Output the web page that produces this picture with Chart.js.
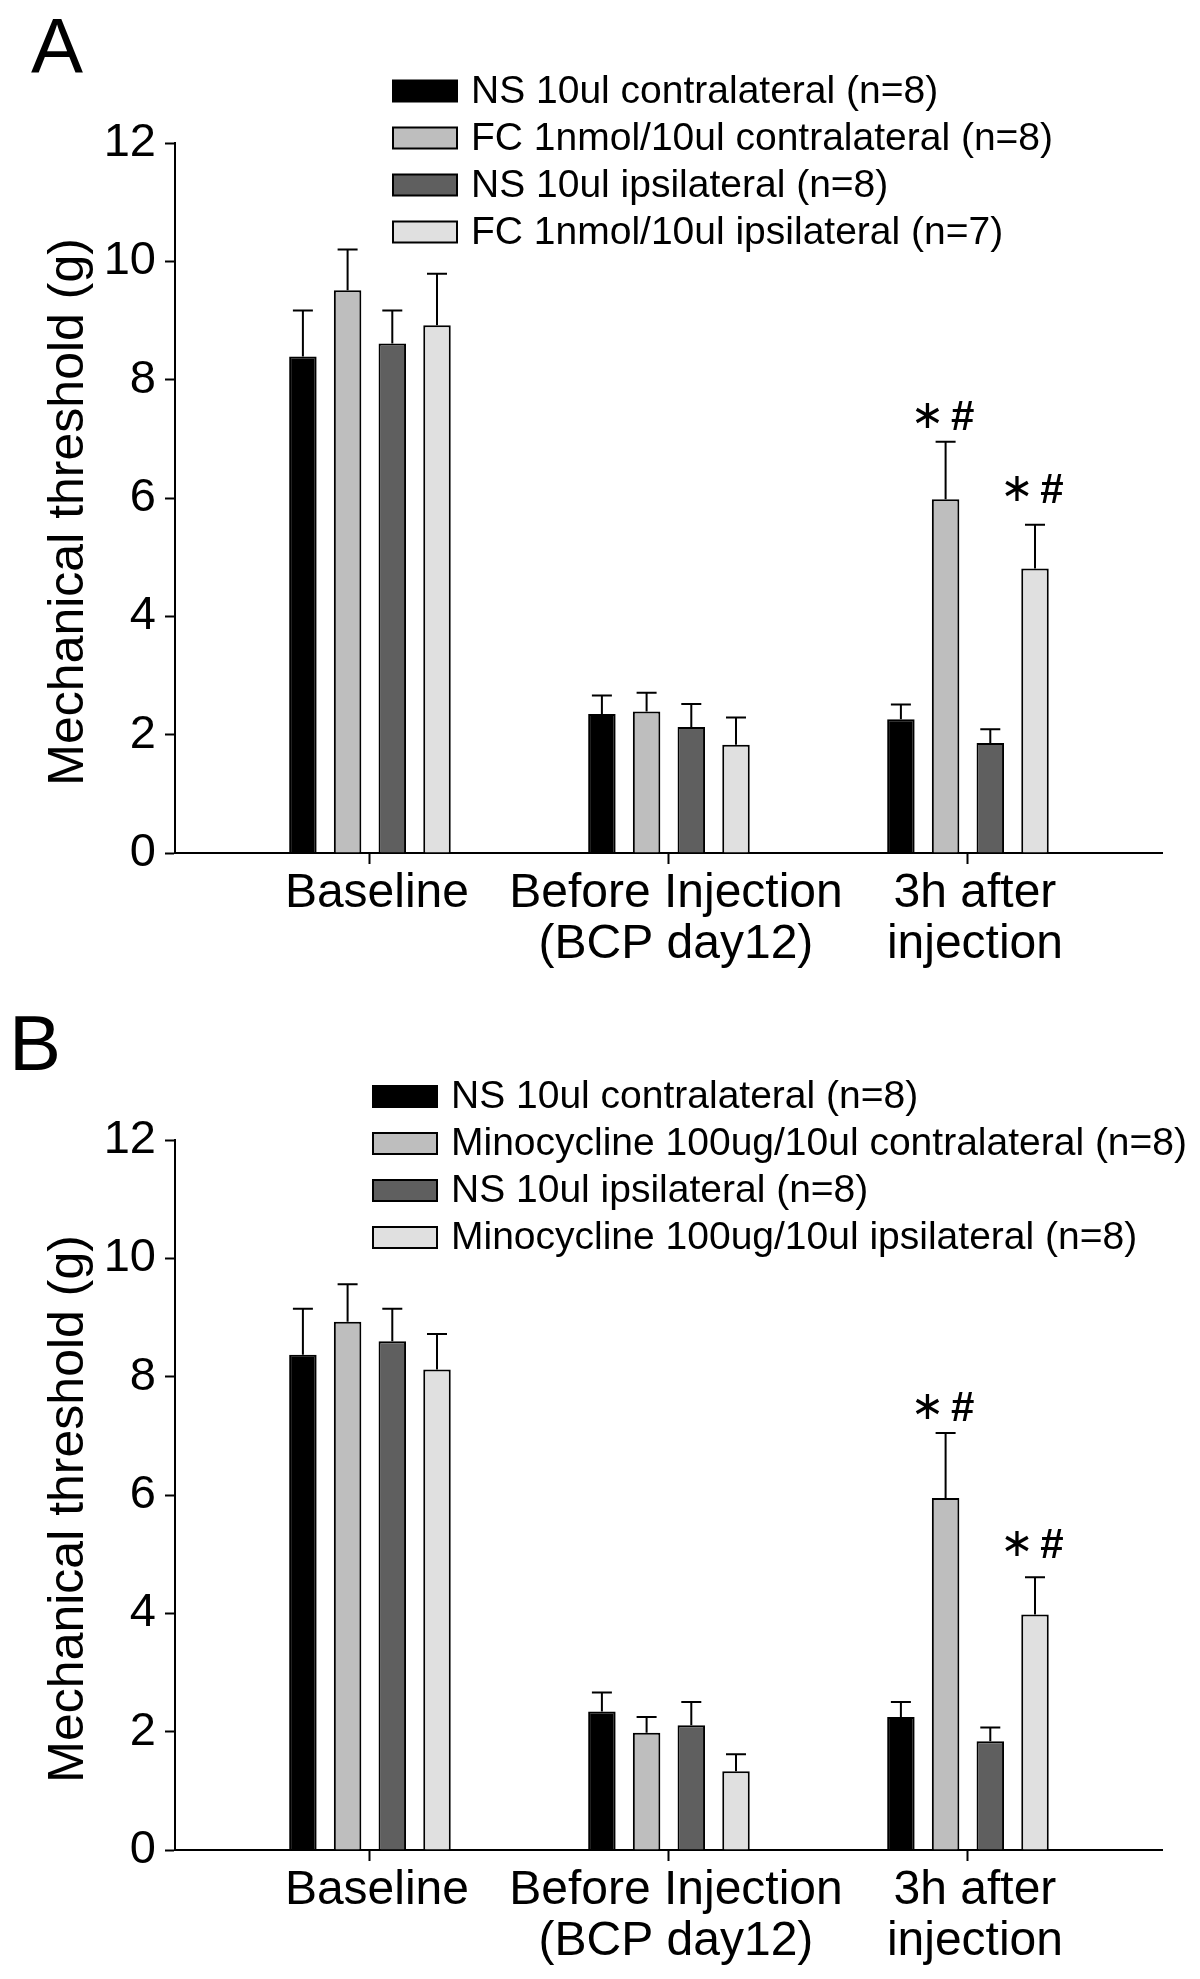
<!DOCTYPE html>
<html><head><meta charset="utf-8">
<script src="https://cdn.jsdelivr.net/npm/chart.js@4.4.0/dist/chart.umd.min.js"></script>
<style>
html,body{margin:0;padding:0;background:#fff;width:1200px;height:1979px;overflow:hidden;}
canvas{position:absolute;left:0;}
.letter{position:absolute;font-family:'Liberation Sans',Arial,sans-serif;font-size:78px;line-height:1;color:#000;z-index:2;}
</style></head><body>
<canvas id="cA" width="1200" height="997" style="top:0;width:1200px;height:997px"></canvas>
<canvas id="cB" width="1200" height="982" style="top:997px;width:1200px;height:982px"></canvas>
<div class="letter" style="left:31px;top:7px">A</div>
<div class="letter" style="left:9px;top:1004px">B</div>
<script>
// ---- data ----
const categories = [['Baseline'], ['Before Injection', '(BCP day12)'], ['3h after', 'injection']];
const yTitle = 'Mechanical threshold (g)\u00a0\u00a0';
const seriesColors = ['#000000', '#bebebe', '#5f5f5f', '#e0e0e0'];

const labelsA = ['NS 10ul contralateral (n=8)', 'FC 1nmol/10ul contralateral (n=8)', 'NS 10ul ipsilateral (n=8)', 'FC 1nmol/10ul ipsilateral (n=7)'];
const nsContraA = [8.39, 2.35, 2.26];
const fcContraA = [9.51, 2.39, 5.98];
const nsIpsiA   = [8.61, 2.13, 1.86];
const fcIpsiA   = [8.92, 1.83, 4.81];
const nsContraA_sem = [0.78, 0.31, 0.25];
const fcContraA_sem = [0.69, 0.32, 0.97];
const nsIpsiA_sem   = [0.56, 0.39, 0.23];
const fcIpsiA_sem   = [0.87, 0.46, 0.74];
const sigA = [['', '', ''], ['', '', '∗#'], ['', '', ''], ['', '', '∗#']];

const labelsB = ['NS 10ul contralateral (n=8)', 'Minocycline 100ug/10ul contralateral (n=8)', 'NS 10ul ipsilateral (n=8)', 'Minocycline 100ug/10ul ipsilateral (n=8)'];
const nsContraB  = [8.37, 2.34, 2.25];
const minoContraB = [8.93, 1.98, 5.95];
const nsIpsiB    = [8.60, 2.11, 1.84];
const minoIpsiB  = [8.12, 1.33, 3.98];
const nsContraB_sem  = [0.78, 0.32, 0.25];
const minoContraB_sem = [0.63, 0.27, 1.10];
const nsIpsiB_sem    = [0.55, 0.39, 0.23];
const minoIpsiB_sem  = [0.60, 0.29, 0.63];
const sigB = [['', '', ''], ['', '', '∗#'], ['', '', ''], ['', '', '∗#']];
// ---------------

Chart.defaults.font.family = "'Liberation Sans', Arial, sans-serif";
Chart.defaults.color = '#000';

const errorBars = {
  id: 'errorBars',
  afterDatasetsDraw(chart, args, opts) {
    const ctx = chart.ctx, ys = chart.scales.y;
    ctx.save();
    ctx.strokeStyle = '#000'; ctx.lineWidth = 2; ctx.fillStyle = '#000';
    chart.data.datasets.forEach((ds, k) => {
      const meta = chart.getDatasetMeta(k);
      meta.data.forEach((bar, i) => {
        const v = ds.data[i].y, e = ds.sem[i];
        const yt = ys.getPixelForValue(v + e);
        ctx.beginPath();
        ctx.moveTo(bar.x, bar.y); ctx.lineTo(bar.x, yt);
        ctx.moveTo(bar.x - 10, yt); ctx.lineTo(bar.x + 10, yt);
        ctx.stroke();
        const s = ds.sig[i];
        if (s) {
          const off = (opts.sigOffsets && opts.sigOffsets[k]) || 25;
          ctx.textAlign = 'center'; ctx.textBaseline = 'middle';
          ctx.font = "40px 'DejaVu Sans'";
          ctx.fillText(s[0], bar.x - 18, yt - off);
          ctx.font = "bold 42px 'Liberation Sans'";
          ctx.fillText(s[1], bar.x + 17, yt - off + 1);
        }
      });
    });
    ctx.restore();
  }
};

const boxLegend = {
  id: 'boxLegend',
  afterDraw(chart, args, opts) {
    const ctx = chart.ctx;
    ctx.save();
    ctx.font = "39px 'Liberation Sans'";
    ctx.textBaseline = 'middle'; ctx.textAlign = 'left';
    chart.data.datasets.forEach((ds, k) => {
      const yc = opts.y + k * opts.dy;
      ctx.fillStyle = ds.backgroundColor;
      ctx.fillRect(opts.x, yc - 10.5, 64, 21);
      ctx.strokeStyle = '#000'; ctx.lineWidth = 2;
      ctx.strokeRect(opts.x, yc - 10.5, 64, 21);
      ctx.fillStyle = '#000';
      ctx.fillText(ds.label, opts.x + 78, yc + 1);
    });
    ctx.restore();
  }
};

function makeChart(id, labels, means, sems, sigs, xh, leg, sigOffsets) {
  const datasets = labels.map((lab, k) => ({
    label: lab,
    data: means[k].map((v, i) => ({ x: i, y: v })),
    backgroundColor: seriesColors[k],
    borderColor: '#000',
    borderWidth: 2,
    barPercentage: 0.615,
    categoryPercentage: 0.598,
    sem: sems[k],
    sig: sigs[k]
  }));
  return new Chart(document.getElementById(id), {
    type: 'bar',
    data: { datasets },
    options: {
      responsive: false,
      animation: false,
      devicePixelRatio: 1,
      layout: { padding: { top: 143, right: 38, left: 0, bottom: 0 } },
      plugins: { legend: { display: false }, tooltip: { enabled: false }, boxLegend: leg, errorBars: { sigOffsets } },
      scales: {
        x: {
          type: 'linear', min: -0.652, max: 2.649, offset: false,
          afterBuildTicks: s => { s.ticks = categories.map((c, i) => ({ value: i })); },
          afterFit: s => { s.height = xh; },
          grid: { display: true, offset: false, drawOnChartArea: false, drawTicks: true, tickLength: 11, tickWidth: 2, tickColor: '#000', color: '#000' },
          border: { display: true, color: '#000', width: 2 },
          ticks: { autoSkip: false, maxRotation: 0, minRotation: 0, padding: 5, labelOffset: 7, color: '#000',
                   font: { size: 48, lineHeight: 1.05 },
                   callback: v => categories[v] ?? '' }
        },
        y: {
          min: 0, max: 12,
          afterFit: s => { s.width = 175; },
          ticks: { stepSize: 2, padding: 9, color: '#000', font: { size: 47 } },
          grid: { display: true, drawOnChartArea: false, drawTicks: true, tickLength: 10, tickWidth: 2, tickColor: '#000' },
          border: { display: true, color: '#000', width: 2 },
          title: { display: true, text: yTitle, color: '#000', font: { size: 50 }, padding: { top: 39, bottom: 0 } }
        }
      }
    },
    plugins: [errorBars, boxLegend]
  });
}

makeChart('cA', labelsA,
  [nsContraA, fcContraA, nsIpsiA, fcIpsiA],
  [nsContraA_sem, fcContraA_sem, nsIpsiA_sem, fcIpsiA_sem],
  sigA, 144, { x: 393, y: 91, dy: 47 }, [25, 24, 25, 34]);
makeChart('cB', labelsB,
  [nsContraB, minoContraB, nsIpsiB, minoIpsiB],
  [nsContraB_sem, minoContraB_sem, nsIpsiB_sem, minoIpsiB_sem],
  sigB, 129, { x: 373, y: 99.5, dy: 47 }, [25, 24, 25, 32]);
</script>
</body></html>
